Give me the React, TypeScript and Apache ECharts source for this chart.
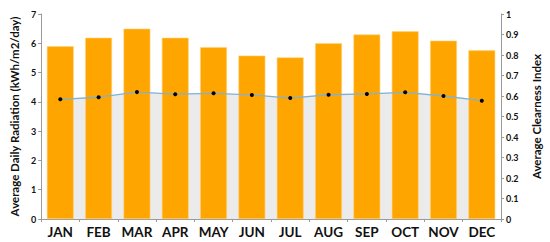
import React, { useEffect, useRef } from "react";
import * as echarts from "echarts";

const months = ["JAN", "FEB", "MAR", "APR", "MAY", "JUN", "JUL", "AUG", "SEP", "OCT", "NOV", "DEC"];
const radiation = [5.9, 6.19, 6.5, 6.19, 5.87, 5.58, 5.52, 6.0, 6.3, 6.41, 6.09, 5.76];
const clearness = [0.584, 0.594, 0.619, 0.609, 0.613, 0.605, 0.59, 0.606, 0.61, 0.618, 0.6, 0.577];

export default function App() {
  const ref = useRef<HTMLDivElement>(null);
  useEffect(() => {
    if (!ref.current) return;
    const chart = echarts.init(ref.current, undefined, { renderer: "svg" });
    const font = "Lato, 'Open Sans', sans-serif";
    chart.setOption({
      animation: false,
      backgroundColor: "#ffffff",
      grid: { left: 38, right: 44, top: 14, bottom: 23, containLabel: false },
      xAxis: {
        type: "category",
        data: months,
        boundaryGap: true,
        axisLine: { show: true, lineStyle: { color: "#9a9a9a", width: 1 } },
        axisTick: { show: true, alignWithLabel: false, length: 3, lineStyle: { color: "#9a9a9a" } },
        axisLabel: { interval: 0, color: "#111", fontFamily: font, fontWeight: "bold", fontSize: 13.5, margin: 6 },
      },
      yAxis: [
        {
          type: "value",
          min: 0,
          max: 7,
          interval: 1,
          name: "Average Daily Radiation (kWh/m2/day)",
          nameLocation: "middle",
          nameGap: 19,
          nameRotate: 90,
          nameTextStyle: { color: "#111", fontFamily: font, fontWeight: "bold", fontSize: 11.5 },
          axisLine: { show: true, lineStyle: { color: "#9a9a9a" } },
          axisTick: { show: true, length: 3, lineStyle: { color: "#9a9a9a" } },
          axisLabel: { color: "#111", fontFamily: font, fontWeight: "bold", fontSize: 9, margin: 5 },
          splitLine: { show: false },
        },
        {
          type: "value",
          min: 0,
          max: 1,
          interval: 0.1,
          position: "right",
          name: "Average Clearness Index",
          nameLocation: "middle",
          nameGap: 29,
          nameRotate: 90,
          nameTextStyle: { color: "#111", fontFamily: font, fontWeight: "bold", fontSize: 11.5 },
          axisLine: { show: true, lineStyle: { color: "#9a9a9a" } },
          axisTick: { show: true, length: 3, lineStyle: { color: "#9a9a9a" } },
          axisLabel: {
            color: "#111",
            fontFamily: font,
            fontWeight: "bold",
            fontSize: 9,
            margin: 5,
            formatter: (v: number) => String(Math.round(v * 10) / 10),
          },
          splitLine: { show: false },
        },
      ],
      series: [
        {
          type: "line",
          yAxisIndex: 1,
          data: clearness,
          z: 1,
          symbol: "none",
          lineStyle: { width: 0, opacity: 0 },
          areaStyle: { color: "#ebebeb", opacity: 1 },
          silent: true,
        },
        {
          type: "bar",
          yAxisIndex: 0,
          data: radiation,
          z: 2,
          barCategoryGap: "30%",
          itemStyle: { color: "#ffa500", borderColor: "#ffd27a", borderWidth: 0.6 },
        },
        {
          type: "line",
          yAxisIndex: 1,
          data: clearness,
          z: 3,
          symbol: "circle",
          symbolSize: 4,
          itemStyle: { color: "#000" },
          lineStyle: { color: "#7fb2d4", width: 1.3 },
        },
      ],
    });
    return () => chart.dispose();
  }, []);
  return <div ref={ref} style={{ width: 550, height: 242, position: "absolute", left: 0, top: 0 }} />;
}
